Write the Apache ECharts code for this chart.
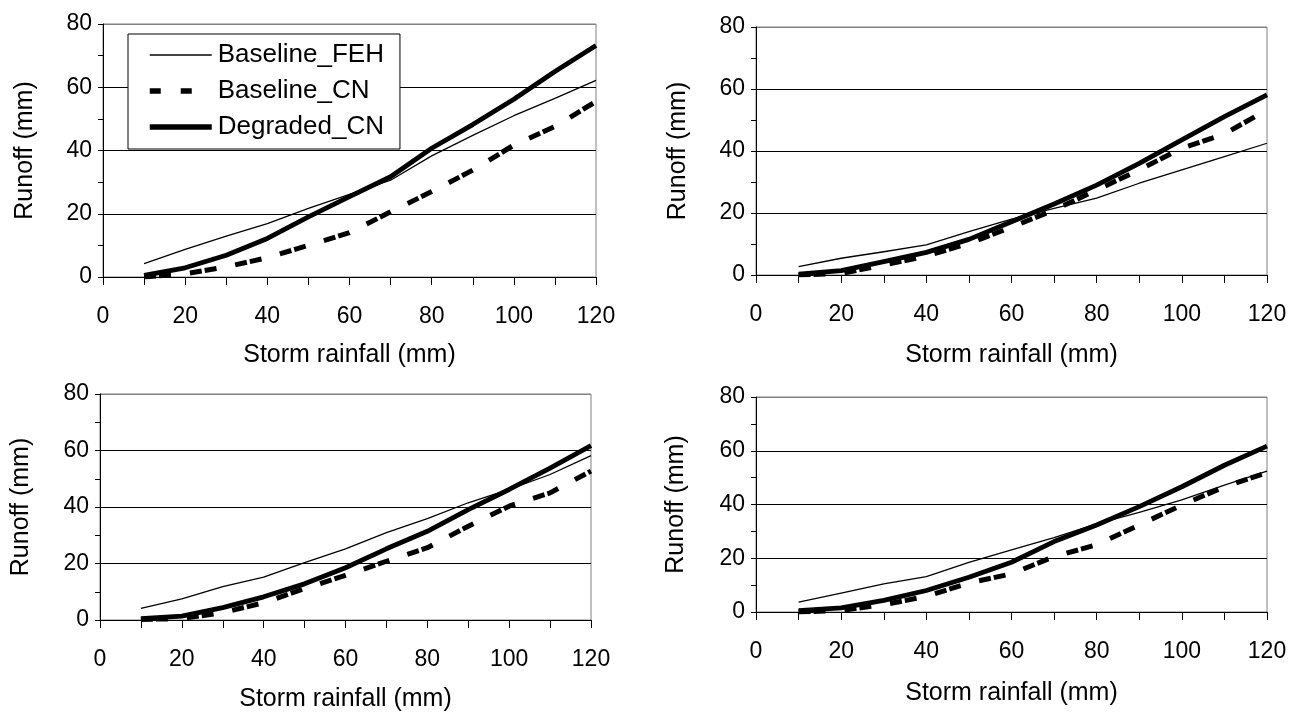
<!DOCTYPE html>
<html>
<head>
<meta charset="utf-8">
<script src="https://cdn.jsdelivr.net/npm/echarts@6/dist/echarts.min.js"></script>
<style>
html,body{margin:0;padding:0;background:#fff;}
#chart{width:1290px;height:713px;}
</style>
</head>
<body>
<div id="chart"></div>
<script>
// ---- data ----
const rainfall = [10, 20, 30, 40, 50, 60, 70, 80, 90, 100, 110, 120];
const seriesNames = ['Baseline_FEH', 'Baseline_CN', 'Degraded_CN'];
const xTitle = 'Storm rainfall (mm)';
const yTitle = 'Runoff (mm)';

const p1_FEH = [4.2, 8.7, 12.9, 16.9, 21.7, 26.1, 30.6, 38.3, 44.8, 51.0, 56.5, 62.2];
const p1_CN  = [0, 1.0, 3.2, 6.1, 10.0, 14.0, 20.6, 27.0, 33.8, 41.7, 47.6, 55.5];
const p1_DEG = [0.5, 2.9, 6.9, 12.2, 19.0, 25.4, 31.7, 40.7, 48.2, 56.2, 65.0, 73.2];

const p2_FEH = [2.7, 5.4, 7.5, 9.7, 14.0, 18.0, 21.5, 24.8, 29.6, 33.9, 38.2, 42.5];
const p2_CN  = [0, 0.5, 3.2, 6.1, 10.2, 15.4, 21.0, 27.4, 33.9, 40.9, 45.5, 53.3];
const p2_DEG = [0.3, 1.4, 4.3, 7.3, 11.5, 17.2, 22.9, 29.0, 36.0, 43.6, 51.1, 58.1];

const p3_FEH = [4.1, 7.5, 11.8, 15.2, 20.3, 25.2, 30.9, 35.9, 41.5, 46.2, 51.5, 58.2];
const p3_CN  = [0.2, 0.5, 2.6, 6.1, 11.1, 15.8, 20.8, 25.6, 33.2, 40.3, 45.0, 52.7];
const p3_DEG = [0.5, 1.4, 4.4, 8.2, 12.8, 18.5, 25.2, 31.4, 39.1, 46.2, 53.8, 61.7];

const p4_FEH = [3.7, 7.0, 10.5, 13.2, 18.5, 23.1, 27.7, 32.8, 37.1, 41.7, 47.2, 52.4];
const p4_CN  = [0, 0.6, 2.7, 5.8, 10.8, 14.2, 20.6, 25.0, 32.4, 39.8, 46.6, 51.8];
const p4_DEG = [0.5, 1.5, 4.3, 8.0, 12.9, 18.5, 26.2, 32.4, 39.2, 46.6, 54.6, 61.7];

const panels = [
  [p1_FEH, p1_CN, p1_DEG],
  [p2_FEH, p2_CN, p2_DEG],
  [p3_FEH, p3_CN, p3_DEG],
  [p4_FEH, p4_CN, p4_DEG]
];

// ---- layout ----
const FONT = "'Liberation Sans', Arial, sans-serif";
const grids = [
  {left: 103, top: 24, width: 493, height: 253},
  {left: 756, top: 27, width: 511, height: 248},
  {left: 100, top: 394, width: 491, height: 227},
  {left: 756, top: 397, width: 511, height: 215}
];
const xNameGaps = [66, 68, 67, 69];
const yNameGaps = [65, 65, 66, 67];

const styles = [
  {width: 1.3, type: 'solid'},
  {width: 5, type: [12, 3, 12, 19]},
  {width: 4.8, type: 'solid'}
];

const hiddenSymbol = {opacity: 0, color: 'rgba(0,0,0,0)', borderWidth: 0};

const option = {
  animation: false,
  backgroundColor: '#fff',
  textStyle: {fontFamily: FONT, color: '#000'},
  grid: grids.map(g => Object.assign({show: true, borderColor: '#808080', borderWidth: 1, backgroundColor: 'transparent'}, g)),
  legend: {
    show: true,
    orient: 'vertical',
    left: 128, top: 34,
    padding: [8, 16, 9, 19],
    itemWidth: 62, itemHeight: 14, itemGap: 10,
    borderColor: '#000', borderWidth: 1,
    backgroundColor: '#fff',
    textStyle: {fontFamily: FONT, fontSize: 26, color: '#000', lineHeight: 23, padding: [0, 0, 0, 1]},
    data: [
      {name: seriesNames[0], itemStyle: hiddenSymbol, lineStyle: {width: 1.3, type: 'solid', color: '#000'}},
      {name: seriesNames[1], itemStyle: hiddenSymbol, lineStyle: {width: 5.5, type: [11, 20], color: '#000'}},
      {name: seriesNames[2], itemStyle: hiddenSymbol, lineStyle: {width: 5.5, type: 'solid', color: '#000'}}
    ]
  },
  xAxis: grids.map((g, i) => ({
    gridIndex: i, type: 'value', min: 0, max: 120, interval: 20,
    name: xTitle, nameLocation: 'middle', nameGap: xNameGaps[i],
    nameTextStyle: {fontFamily: FONT, fontSize: 25, color: '#000'},
    axisLine: {show: true, onZero: false, lineStyle: {color: '#000', width: 1}},
    axisTick: {show: true, length: 8, lineStyle: {color: '#000'}},
    minorTick: {show: true, splitNumber: 2, length: 8, lineStyle: {color: '#000'}},
    axisLabel: {fontFamily: FONT, fontSize: 23, color: '#000', margin: 28},
    splitLine: {show: false}
  })),
  yAxis: grids.map((g, i) => ({
    gridIndex: i, type: 'value', min: 0, max: 80, interval: 20,
    name: yTitle, nameLocation: 'middle', nameGap: yNameGaps[i],
    nameTextStyle: {fontFamily: FONT, fontSize: 25, color: '#000'},
    axisLine: {show: true, lineStyle: {color: '#000', width: 1}},
    axisTick: {show: true, length: 5, lineStyle: {color: '#000'}},
    minorTick: {show: true, splitNumber: 2, length: 5, lineStyle: {color: '#000'}},
    axisLabel: {fontFamily: FONT, fontSize: 23, color: '#000', margin: 11},
    splitLine: {show: true, lineStyle: {color: ['#000', '#000', '#000', '#000', '#808080'], width: 1}}
  })),
  series: []
};

panels.forEach((arrs, pi) => {
  arrs.forEach((vals, si) => {
    option.series.push({
      name: seriesNames[si],
      type: 'line',
      xAxisIndex: pi, yAxisIndex: pi,
      showSymbol: false, symbol: 'none',
      lineStyle: {color: '#000', width: styles[si].width, type: styles[si].type, cap: 'butt', join: 'round'},
      itemStyle: {color: '#000'},
      data: rainfall.map((x, k) => [x, vals[k]]),
      z: 2 + si
    });
  });
});

const chart = echarts.init(document.getElementById('chart'), null, {renderer: 'canvas'});
chart.setOption(option);
</script>
</body>
</html>
